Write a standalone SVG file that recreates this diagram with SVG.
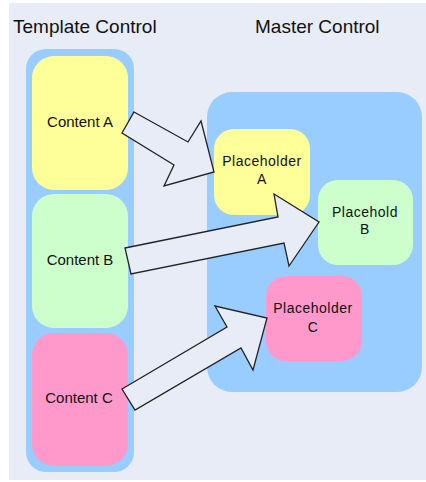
<svg xmlns="http://www.w3.org/2000/svg" width="426" height="482" viewBox="0 0 426 482">
<style>
.title{font-family:"Liberation Sans",Arial,sans-serif;font-size:19px;fill:#111}
.lbl{font-family:"Liberation Sans",Arial,sans-serif;font-size:15px;fill:#111;text-anchor:middle}
.ph{font-family:"Liberation Sans",Arial,sans-serif;font-size:14px;fill:#111;text-anchor:middle;letter-spacing:0.5px}
.panel{fill:#99CCFF}
.arrow{fill:#E8ECF6;stroke:#222;stroke-width:1.3;stroke-linejoin:miter}
</style>
<rect x="0" y="0" width="426" height="482" fill="#FFFFFF"/>
<rect x="9" y="3" width="417" height="477" fill="#E8ECF6"/>
<text class="title" x="13" y="33">Template Control</text>
<text class="title" x="255" y="33">Master Control</text>
<g id="template-control">
<rect class="panel" x="26" y="49" width="108" height="423" rx="20"/>
</g>
<g id="master-control">
<rect class="panel" x="207" y="92" width="215" height="300" rx="25"/>
</g>
<g id="content-a">
<rect x="32" y="56" width="96" height="134" rx="22" fill="#FFFF99"/>
<text class="lbl" x="80" y="127">Content A</text>
</g>
<g id="content-b">
<rect x="32" y="194" width="96" height="134" rx="22" fill="#CCFFCC"/>
<text class="lbl" x="80" y="265">Content B</text>
</g>
<g id="content-c">
<rect x="32" y="333" width="96" height="133" rx="22" fill="#FF99CC"/>
<text class="lbl" x="79" y="403">Content C</text>
</g>
<g id="placeholder-a">
<rect x="214" y="129" width="96" height="86" rx="20" fill="#FFFF99"/>
<text class="ph" x="262" y="166">Placeholder</text>
<text class="ph" x="262" y="184">A</text>
</g>
<g id="placeholder-b">
<rect x="318" y="180" width="95" height="85" rx="20" fill="#CCFFCC"/>
<text class="ph" x="365" y="217">Placehold</text>
<text class="ph" x="365" y="234">B</text>
</g>
<g id="placeholder-c">
<rect x="266" y="276" width="96" height="85" rx="20" fill="#FF99CC"/>
<text class="ph" x="313" y="313">Placeholder</text>
<text class="ph" x="313" y="332">C</text>
</g>
<g id="connectors">
<polygon class="arrow" points="134,112 188,142 201,121 214,172 164,186 174,165 122,133"/>
<polygon class="arrow" points="125,248 278,217 274,194 319,222 289,266 284,243 131,274"/>
<polygon class="arrow" points="122,389 227,327 215,306 267,318 253,370 241,348 135,410"/>
</g>
</svg>
